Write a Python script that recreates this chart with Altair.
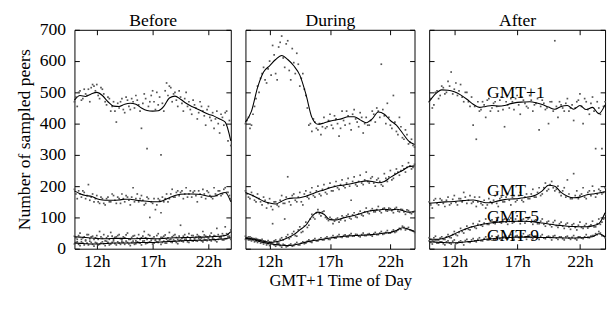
import altair as alt
import pandas as pd

FONT = "Liberation Serif"
SERIES = ["GMT+1", "GMT", "GMT-5", "GMT-9"]

LINE_HOURS = [10, 10.5, 11, 11.5, 12, 12.5, 13, 13.5, 14, 14.5, 15, 15.5, 16, 16.5, 17,
              17.5, 18, 18.5, 19, 19.5, 20, 20.5, 21, 21.5, 22, 22.5, 23, 23.5, 24]
DOT_HOURS = [10, 10.25, 10.5, 10.75, 11, 11.25, 11.5, 11.75, 12, 12.25, 12.5, 12.75,
             13, 13.25, 13.5, 13.75, 14, 14.25, 14.5, 14.75, 15, 15.25, 15.5, 15.75,
             16, 16.25, 16.5, 16.75, 17, 17.25, 17.5, 17.75, 18, 18.25, 18.5, 18.75,
             19, 19.25, 19.5, 19.75, 20, 20.25, 20.5, 20.75, 21, 21.25, 21.5, 21.75,
             22, 22.25, 22.5, 22.75, 23, 23.25, 23.5, 23.75, 24]
DOT_HOURS_B = [10.125, 10.375, 10.625, 10.875, 11.125, 11.375, 11.625, 11.875,
               12.125, 12.375, 12.625, 12.875, 13.125, 13.375, 13.625, 13.875,
               14.125, 14.375, 14.625, 14.875, 15.125, 15.375, 15.625, 15.875,
               16.125, 16.375, 16.625, 16.875, 17.125, 17.375, 17.625, 17.875,
               18.125, 18.375, 18.625, 18.875, 19.125, 19.375, 19.625, 19.875,
               20.125, 20.375, 20.625, 20.875, 21.125, 21.375, 21.625, 21.875,
               22.125, 22.375, 22.625, 22.875, 23.125, 23.375, 23.625, 23.875]
X_TICKS = [12, 17, 22]
Y_TICKS = [0, 100, 200, 300, 400, 500, 600, 700]

# ---------------- Before ----------------
BEFORE_GMTP1_LINE = [475, 490, 487, 495, 500, 490, 470, 456, 455, 462, 465, 462, 450, 442, 440,
                     441, 455, 482, 488, 478, 465, 455, 447, 438, 430, 424, 415, 405, 345]
BEFORE_GMT_LINE = [185, 176, 170, 168, 160, 156, 155, 155, 156, 158, 158, 155, 153, 152, 150,
                   150, 155, 163, 170, 174, 175, 175, 174, 172, 168, 168, 175, 180, 150]
BEFORE_GMTM5_LINE = [38, 37, 36, 34, 33, 32, 32, 33, 33, 33, 32, 32, 33, 33, 32,
                     32, 33, 34, 35, 35, 36, 36, 37, 37, 38, 39, 40, 42, 55]
BEFORE_GMTM9_LINE = [18, 17, 16, 15, 15, 16, 17, 18, 18, 18, 18, 19, 20, 20, 20,
                     21, 22, 23, 24, 25, 26, 26, 27, 27, 28, 29, 30, 32, 35]

BEFORE_GMTP1_DOTS = [470, 455, 505, 480, 495, 510, 515, 520, 525, 480, 510, 470, 485, 440, 470,
                     405, 450, 480, 435, 475, 445, 470, 490, 460, 385, 495, 320, 470, 505, 445,
                     460, 300, 440, 530, 520, 470, 500, 455, 485, 440, 500, 470, 430, 460, 415,
                     470, 440, 395, 455, 410, 385, 440, 370, 420, 435, 345, 330]
BEFORE_GMT_DOTS = [190, 160, 175, 185, 160, 205, 165, 150, 170, 145, 160, 140, 165, 150, 170,
                   145, 160, 175, 150, 165, 140, 195, 160, 150, 170, 140, 165, 100, 145, 125,
                   160, 115, 150, 175, 160, 190, 165, 185, 180, 160, 195, 175, 165, 185, 150,
                   175, 190, 160, 180, 165, 195, 170, 185, 175, 195, 180, 160]
BEFORE_GMTM5_DOTS = [40, 30, 50, 35, 28, 45, 38, 30, 42, 55, 33, 25, 40, 52, 30,
                     38, 45, 28, 35, 50, 30, 40, 25, 45, 35, 55, 30, 42, 33, 28,
                     48, 36, 40, 30, 52, 38, 45, 30, 75, 40, 35, 48, 42, 30, 45,
                     38, 55, 40, 35, 50, 42, 65, 38, 48, 70, 45, 60]
BEFORE_GMTM9_DOTS = [15, 22, 10, 18, 25, 12, 20, 8, 18, 14, 22, 10, 20, 15, 25,
                     12, 18, 22, 14, 20, 10, 24, 16, 20, 12, 25, 18, 22, 15, 26,
                     20, 14, 24, 18, 28, 20, 25, 16, 28, 22, 30, 20, 26, 32, 24,
                     30, 22, 28, 34, 25, 30, 22, 35, 28, 32, 38, 30]

BEFORE_GMTP1_DOTS_B = [485, 500, 475, 510, 490, 470, 525, 505,
                       490, 515, 495, 460, 480, 455, 440, 465,
                       470, 445, 485, 455, 480, 450, 475, 440,
                       465, 480, 455, 490, 470, 500, 485, 465,
                       505, 490, 515, 495, 475, 505, 465, 480,
                       455, 445, 475, 450, 435, 455, 425, 445,
                       420, 435, 415, 400, 430, 395, 440, 410]
BEFORE_GMT_DOTS_B = [175, 185, 165, 180, 170, 155, 175, 160,
                     150, 165, 145, 160, 150, 175, 155, 165,
                     145, 160, 170, 155, 165, 150, 175, 160,
                     155, 145, 160, 150, 160, 140, 155, 165,
                     160, 150, 175, 165, 180, 170, 185, 175,
                     165, 185, 180, 170, 185, 165, 175, 185,
                     170, 160, 175, 185, 170, 190, 180, 170]
BEFORE_GMTM5_DOTS_B = [35, 42, 30, 38, 45, 32, 40, 35,
                       30, 38, 45, 35, 30, 40, 36, 42,
                       32, 38, 44, 30, 36, 42, 34, 30,
                       40, 35, 45, 32, 38, 42, 30, 36,
                       44, 35, 30, 42, 36, 40, 33, 45,
                       38, 32, 42, 36, 40, 34, 44, 38,
                       42, 36, 40, 45, 38, 42, 48, 40]
BEFORE_GMTM9_DOTS_B = [20, 14, 22, 12, 18, 24, 14, 20,
                       12, 18, 16, 24, 12, 20, 16, 22,
                       14, 20, 24, 15, 20, 14, 22, 18,
                       24, 16, 20, 26, 18, 22, 28, 20,
                       18, 25, 22, 28, 20, 26, 24, 30,
                       22, 28, 24, 26, 32, 25, 30, 26,
                       28, 32, 26, 30, 34, 28, 32, 36]

# ---------------- During ----------------
DURING_GMTP1_LINE = [405, 440, 515, 565, 585, 605, 618, 605, 585, 555, 495, 420, 398, 402, 408,
                     412, 416, 422, 422, 412, 403, 415, 437, 430, 410, 395, 370, 345, 333]
DURING_GMT_LINE = [180, 172, 162, 152, 146, 143, 152, 160, 162, 163, 168, 175, 182, 188, 195,
                   200, 203, 206, 210, 214, 217, 215, 211, 215, 228, 240, 250, 262, 265]
DURING_GMTM5_LINE = [35, 32, 28, 24, 20, 22, 27, 35, 45, 60, 75, 103, 117, 110, 93,
                     92, 97, 102, 106, 112, 118, 122, 124, 126, 124, 126, 122, 117, 118]
DURING_GMTM9_LINE = [33, 30, 25, 20, 16, 13, 11, 10, 12, 16, 21, 25, 28, 31, 34,
                     37, 39, 41, 42, 43, 44, 45, 47, 50, 52, 58, 67, 62, 55]

DURING_GMTP1_DOTS = [400, 420, 395, 455, 520, 545, 580, 530, 600, 650, 560, 645, 680, 580, 665,
                     540, 595, 625, 520, 560, 490, 395, 375, 405, 380, 365, 420, 390, 430, 385,
                     415, 360, 440, 395, 425, 380, 445, 405, 435, 370, 420, 395, 440, 405, 440,
                     590, 425, 465, 395, 490, 375, 420, 355, 380, 335, 350, 325]
DURING_GMT_DOTS = [185, 165, 180, 155, 175, 150, 165, 130, 160, 125, 150, 135, 170, 145, 230,
                   140, 175, 150, 180, 140, 185, 160, 195, 165, 200, 170, 205, 175, 210, 185,
                   215, 190, 220, 195, 225, 155, 230, 200, 235, 205, 245, 210, 230, 200, 225,
                   205, 240, 215, 250, 225, 255, 235, 265, 245, 275, 255, 270]
DURING_GMTM5_DOTS = [40, 28, 35, 22, 30, 18, 25, 12, 22, 80, 28, 18, 35, 95, 45,
                     38, 55, 40, 70, 55, 85, 75, 110, 95, 125, 105, 120, 95, 100, 80,
                     95, 85, 105, 90, 110, 95, 115, 100, 120, 105, 130, 112, 128, 118, 135,
                     115, 130, 120, 128, 115, 132, 118, 125, 110, 122, 112, 120]
DURING_GMTM9_DOTS = [30, 38, 25, 32, 20, 28, 15, 22, 10, 18, 8, 15, 5, 12, 8,
                     15, 10, 20, 12, 22, 18, 28, 20, 32, 25, 35, 28, 38, 30, 42,
                     34, 45, 36, 44, 38, 48, 40, 45, 38, 50, 42, 48, 40, 52, 45,
                     55, 48, 58, 50, 60, 55, 65, 72, 60, 68, 58, 52]

DURING_GMTP1_DOTS_B = [410, 385, 430, 480, 500, 560, 540, 575,
                       555, 620, 540, 660, 610, 655, 570, 640,
                       560, 590, 545, 510, 450, 400, 415, 385,
                       400, 390, 385, 410, 395, 425, 400, 385,
                       410, 440, 400, 430, 415, 390, 420, 400,
                       395, 410, 430, 450, 420, 445, 400, 420,
                       385, 405, 365, 390, 350, 365, 340, 330]
DURING_GMT_DOTS_B = [175, 160, 170, 150, 160, 140, 155, 145,
                     135, 150, 140, 155, 145, 165, 150, 170,
                     155, 165, 150, 175, 165, 180, 170, 185,
                     175, 190, 180, 195, 185, 200, 195, 205,
                     200, 210, 200, 215, 205, 215, 210, 220,
                     215, 225, 210, 220, 215, 200, 225, 230,
                     220, 240, 245, 250, 255, 260, 265, 260]
DURING_GMTM5_DOTS_B = [32, 38, 28, 32, 25, 30, 20, 26,
                       18, 25, 20, 30, 28, 38, 32, 48,
                       42, 60, 52, 72, 68, 95, 100, 115,
                       112, 118, 100, 90, 95, 88, 98, 92,
                       100, 105, 98, 108, 102, 112, 108, 118,
                       115, 122, 118, 125, 120, 128, 122, 130,
                       122, 128, 120, 126, 118, 124, 115, 118]
DURING_GMTM9_DOTS_B = [35, 28, 32, 24, 28, 20, 24, 16,
                       20, 12, 16, 10, 14, 6, 12, 8,
                       15, 12, 18, 16, 24, 22, 28, 25,
                       30, 28, 34, 30, 36, 34, 40, 38,
                       42, 38, 44, 40, 46, 40, 45, 42,
                       46, 44, 48, 45, 50, 46, 52, 50,
                       55, 52, 60, 62, 68, 64, 60, 56]

# ---------------- After ----------------
AFTER_GMTP1_LINE = [470, 495, 508, 507, 502, 492, 478, 462, 452, 455, 458, 456, 458, 464, 468,
                    469, 470, 467, 461, 453, 446, 455, 458, 446, 458, 445, 452, 432, 460]
AFTER_GMT_LINE = [145, 147, 149, 150, 151, 153, 155, 156, 152, 147, 148, 153, 157, 159, 160,
                  163, 166, 172, 185, 203, 200, 180, 168, 163, 165, 172, 175, 178, 182]
AFTER_GMTM5_LINE = [30, 30, 32, 38, 47, 57, 65, 71, 76, 80, 83, 85, 86, 87, 88,
                    88, 87, 85, 82, 79, 76, 74, 72, 71, 70, 70, 73, 80, 115]
AFTER_GMTM9_LINE = [22, 21, 20, 19, 19, 20, 22, 24, 27, 30, 32, 34, 35, 36, 37,
                    37, 37, 36, 36, 36, 35, 35, 34, 34, 35, 36, 38, 48, 38]

AFTER_GMTP1_DOTS = [470, 450, 500, 480, 520, 495, 535, 565, 510, 490, 525, 470, 500, 455, 395,
                    350, 440, 470, 420, 480, 450, 470, 440, 485, 390, 460, 480, 445, 490, 430,
                    475, 455, 490, 440, 465, 380, 475, 445, 400, 470, 665, 420, 460, 440, 480,
                    450, 410, 470, 495, 400, 470, 430, 485, 320, 450, 320, 470]
AFTER_GMT_DOTS = [150, 130, 160, 140, 155, 135, 165, 145, 170, 140, 160, 180, 145, 170, 150,
                  135, 165, 140, 130, 160, 145, 170, 135, 165, 150, 175, 140, 170, 155, 180,
                  150, 175, 160, 190, 165, 195, 175, 210, 190, 215, 185, 200, 170, 195, 220,
                  160, 240, 185, 170, 195, 160, 185, 200, 165, 190, 175, 195]
AFTER_GMTM5_DOTS = [35, 25, 40, 28, 38, 30, 45, 35, 55, 42, 65, 50, 72, 60, 80,
                    65, 88, 72, 95, 78, 92, 80, 100, 82, 95, 78, 98, 85, 105, 80,
                    95, 88, 100, 78, 92, 80, 95, 72, 88, 70, 90, 68, 85, 65, 82,
                    62, 80, 60, 85, 65, 80, 72, 88, 70, 95, 85, 110]
AFTER_GMTM9_DOTS = [25, 15, 28, 18, 22, 12, 25, 15, 28, 18, 25, 12, 30, 20, 32,
                    22, 35, 25, 38, 28, 40, 30, 42, 28, 40, 32, 45, 30, 42, 35,
                    48, 30, 44, 32, 40, 30, 45, 32, 40, 28, 42, 30, 38, 28, 40,
                    30, 42, 28, 38, 32, 45, 35, 42, 48, 55, 42, 35]

AFTER_GMTP1_DOTS_B = [480, 460, 505, 490, 515, 500, 520, 495,
                      530, 505, 485, 500, 470, 485, 455, 470,
                      445, 460, 475, 440, 465, 455, 475, 445,
                      470, 450, 470, 480, 460, 485, 465, 450,
                      475, 460, 480, 455, 465, 450, 470, 440,
                      455, 470, 450, 465, 440, 460, 450, 475,
                      455, 480, 445, 465, 440, 470, 430, 455]
AFTER_GMT_DOTS_B = [140, 155, 145, 160, 145, 155, 140, 158,
                    148, 160, 150, 165, 155, 145, 165, 150,
                    145, 155, 140, 150, 155, 145, 160, 150,
                    165, 155, 165, 150, 170, 155, 165, 160,
                    175, 165, 180, 170, 195, 185, 205, 195,
                    190, 180, 185, 165, 175, 160, 170, 160,
                    175, 165, 180, 170, 185, 175, 185, 180]
AFTER_GMTM5_DOTS_B = [30, 35, 28, 34, 30, 38, 36, 45,
                      45, 52, 55, 62, 62, 70, 68, 78,
                      75, 82, 78, 88, 82, 90, 85, 92,
                      85, 92, 82, 95, 88, 92, 82, 95,
                      85, 90, 80, 88, 78, 85, 76, 84,
                      74, 80, 72, 78, 70, 76, 68, 75,
                      68, 74, 66, 76, 70, 80, 78, 95]
AFTER_GMTM9_DOTS_B = [20, 24, 18, 22, 16, 22, 18, 24,
                      16, 22, 20, 26, 22, 28, 25, 30,
                      26, 32, 28, 34, 30, 36, 32, 38,
                      34, 40, 35, 40, 36, 40, 38, 42,
                      36, 40, 35, 40, 34, 38, 36, 40,
                      34, 38, 32, 38, 34, 36, 32, 38,
                      34, 38, 36, 40, 42, 45, 50, 40]

LABEL_TEXT = ["GMT+1", "GMT", "GMT-5", "GMT-9"]
LABEL_HOUR = [14.6, 14.6, 14.6, 14.6]
LABEL_PEERS = [497, 183, 102, 39]


def long_frame(hours, series_lists):
    rows = []
    for name, vals in zip(SERIES, series_lists):
        assert len(vals) == len(hours), (name, len(vals), len(hours))
        for h, v in zip(hours, vals):
            rows.append({"hour": h, "peers": v, "series": name})
    return pd.DataFrame(rows)


XS = alt.Scale(domain=[10, 24], nice=False, zero=False)
YS = alt.Scale(domain=[0, 700], nice=False)
PLOT_H = 224


def panel(title, lines, dots, dots_b, width, first=False, xtitle=None, xtitle_x=None, labels=False):
    line_df = long_frame(LINE_HOURS, lines)
    dot_df = pd.concat([long_frame(DOT_HOURS, dots), long_frame(DOT_HOURS_B, dots_b)],
                       ignore_index=True)

    bottom_kw = dict(values=X_TICKS, labelExpr="datum.value + 'h'", orient="bottom",
                     tickSize=5, offset=-5, domain=False, grid=False, labelPadding=4,
                     titlePadding=3, titleFontSize=17, title=xtitle if xtitle else None)
    if xtitle_x is not None:
        bottom_kw["titleX"] = xtitle_x
    bottom_axis = alt.Axis(**bottom_kw)
    top_axis = alt.Axis(values=X_TICKS, orient="top", labels=False, tickSize=5, offset=-5,
                        domain=False, grid=False, title=title, titlePadding=0)
    if first:
        left_axis = alt.Axis(values=Y_TICKS, orient="left", tickSize=5, offset=-5, domain=False,
                             grid=False, labelPadding=9, title="Number of sampled peers",
                             titlePadding=6)
    else:
        left_axis = alt.Axis(values=Y_TICKS, orient="left", labels=False, tickSize=5, offset=-5,
                             domain=False, grid=False, title=None)
    right_axis = alt.Axis(values=Y_TICKS, orient="right", labels=False, tickSize=5, offset=-5,
                          domain=False, grid=False, title=None)

    pts = alt.Chart(dot_df).mark_square(size=3, color="#555555", opacity=1).encode(
        x=alt.X("hour:Q", scale=XS, axis=bottom_axis),
        y=alt.Y("peers:Q", scale=YS, axis=left_axis),
    )
    lns = alt.Chart(line_df).mark_line(color="black", strokeWidth=1.1, interpolate="monotone").encode(
        x=alt.X("hour:Q", scale=XS, axis=top_axis),
        y=alt.Y("peers:Q", scale=YS, axis=right_axis),
        detail="series:N",
    )
    layers = [pts, lns]
    if labels:
        lab_df = pd.DataFrame({"hour": LABEL_HOUR, "peers": LABEL_PEERS, "label": LABEL_TEXT})
        txt = alt.Chart(lab_df).mark_text(align="left", baseline="middle", font=FONT,
                                          fontSize=18, color="black").encode(
            x=alt.X("hour:Q", scale=XS, axis=None),
            y=alt.Y("peers:Q", scale=YS, axis=None),
            text="label:N",
        )
        layers.append(txt)
    return alt.layer(*layers).resolve_axis(x="independent", y="independent").properties(
        width=width, height=PLOT_H,
    )


p1 = panel("Before", [BEFORE_GMTP1_LINE, BEFORE_GMT_LINE, BEFORE_GMTM5_LINE, BEFORE_GMTM9_LINE],
           [BEFORE_GMTP1_DOTS, BEFORE_GMT_DOTS, BEFORE_GMTM5_DOTS, BEFORE_GMTM9_DOTS],
           [BEFORE_GMTP1_DOTS_B, BEFORE_GMT_DOTS_B, BEFORE_GMTM5_DOTS_B, BEFORE_GMTM9_DOTS_B],
           160, first=True)
p2 = panel("During", [DURING_GMTP1_LINE, DURING_GMT_LINE, DURING_GMTM5_LINE, DURING_GMTM9_LINE],
           [DURING_GMTP1_DOTS, DURING_GMT_DOTS, DURING_GMTM5_DOTS, DURING_GMTM9_DOTS],
           [DURING_GMTP1_DOTS_B, DURING_GMT_DOTS_B, DURING_GMTM5_DOTS_B, DURING_GMTM9_DOTS_B],
           173, xtitle="GMT+1 Time of Day", xtitle_x=97)
p3 = panel("After", [AFTER_GMTP1_LINE, AFTER_GMT_LINE, AFTER_GMTM5_LINE, AFTER_GMTM9_LINE],
           [AFTER_GMTP1_DOTS, AFTER_GMT_DOTS, AFTER_GMTM5_DOTS, AFTER_GMTM9_DOTS],
           [AFTER_GMTP1_DOTS_B, AFTER_GMT_DOTS_B, AFTER_GMTM5_DOTS_B, AFTER_GMTM9_DOTS_B],
           180, labels=True)

chart = alt.hconcat(p1, p2, p3, spacing=9).properties(
    padding={"left": 7, "top": 0, "right": 0, "bottom": 0},
).configure_view(stroke="black", strokeWidth=1).configure_axis(
    labelFont=FONT, titleFont=FONT, labelFontSize=18, titleFontSize=18,
    labelColor="black", titleColor="black", titleFontWeight="normal",
    tickColor="black", tickWidth=1,
)

chart.save("out.html", embed_options={"renderer": "svg", "actions": False})
